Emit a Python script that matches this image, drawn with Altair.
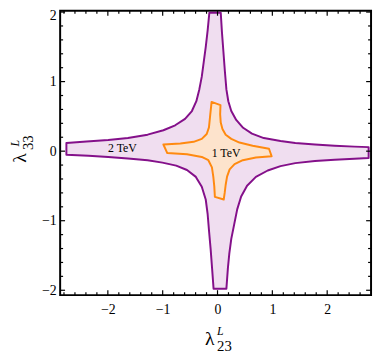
import altair as alt
import pandas as pd

# ---- data ----
purple_x = [-0.149, 0.059, 0.081, 0.108, 0.135, 0.162, 0.197, 0.251, 0.341, 0.467,
            0.628, 0.844, 1.149, 1.418, 1.777, 2.136, 2.495, 2.756,
            2.756, 2.495, 2.136, 1.777, 1.418, 1.149, 0.916, 0.700, 0.539, 0.431,
            0.359, 0.305, 0.251, 0.215, 0.189, 0.162,
            -0.072, -0.099, -0.126, -0.153, -0.180, -0.215, -0.287, -0.395, -0.557, -0.754,
            -1.005, -1.275, -1.634, -1.993, -2.352, -2.756,
            -2.756, -2.388, -1.993, -1.634, -1.275, -0.987, -0.772, -0.592, -0.467, -0.386,
            -0.332, -0.287, -0.251, -0.215, -0.180]
purple_y = [1.990, 1.990, 1.707, 1.425, 1.142, 0.888, 0.718, 0.577, 0.449, 0.336,
            0.252, 0.188, 0.146, 0.117, 0.096, 0.078, 0.065, 0.058,
            -0.099, -0.109, -0.123, -0.141, -0.172, -0.215, -0.278, -0.370, -0.498, -0.653,
            -0.837, -1.049, -1.261, -1.473, -1.685, -1.977,
            -1.977, -1.685, -1.402, -1.162, -0.907, -0.695, -0.512, -0.370, -0.271, -0.208,
            -0.165, -0.130, -0.105, -0.085, -0.066, -0.052,
            0.117, 0.139, 0.160, 0.188, 0.237, 0.301, 0.372, 0.464, 0.577, 0.718,
            0.888, 1.071, 1.283, 1.495, 1.736]

orange_x = [-0.108, 0.054, 0.048, 0.059, 0.090, 0.149, 0.251, 0.400, 0.641, 0.939,
            0.987, 0.700, 0.461, 0.311, 0.221, 0.174, 0.149, 0.131, 0.113,
            -0.048, -0.059, -0.077, -0.102, -0.167, -0.287, -0.557, -0.916,
            -0.987, -0.677, -0.436, -0.287, -0.197, -0.156, -0.138]
orange_y = [0.708, 0.661, 0.530, 0.411, 0.318, 0.237, 0.177, 0.124, 0.078, 0.035,
            -0.073, -0.092, -0.130, -0.187, -0.261, -0.366, -0.483, -0.601, -0.695,
            -0.657, -0.507, -0.366, -0.233, -0.130, -0.083, -0.045, -0.027,
            0.096, 0.110, 0.134, 0.177, 0.247, 0.341, 0.482]

region_labels = ["2 TeV", "1 TeV"]
region_label_x = [-1.733, 0.156]
region_label_y = [0.047, -0.028]

x_major = [-2, -1, 0, 1, 2]
x_minor = [-2.8, -2.6, -2.4, -2.2, -1.8, -1.6, -1.4, -1.2, -0.8, -0.6, -0.4, -0.2,
           0.2, 0.4, 0.6, 0.8, 1.2, 1.4, 1.6, 1.8, 2.2, 2.4, 2.6]
y_major = [-2, -1, 0, 1, 2]
y_minor = [-1.8, -1.6, -1.4, -1.2, -0.8, -0.6, -0.4, -0.2,
           0.2, 0.4, 0.6, 0.8, 1.2, 1.4, 1.6, 1.8]

x_domain = [-2.87, 2.80]
y_domain = [-2.07, 2.018]

W, H = 316, 289
FONT = "Liberation Serif"

# ---- tables ----
purple = pd.DataFrame({"x": purple_x, "y": purple_y, "i": range(len(purple_x))})
orange = pd.DataFrame({"x": orange_x, "y": orange_y, "i": range(len(orange_x))})
labels = pd.DataFrame({"x": region_label_x, "y": region_label_y, "t": region_labels})
xmaj = pd.DataFrame({"x": x_major})
xmin = pd.DataFrame({"x": x_minor})
ymaj = pd.DataFrame({"y": y_major})
ymin = pd.DataFrame({"y": y_minor})

xs = alt.Scale(domain=x_domain, nice=False, zero=False)
ys = alt.Scale(domain=y_domain, nice=False, zero=False)

x_axis = alt.Axis(values=x_major, title=None, labelPadding=8, ticks=False,
                  domain=False, grid=False)
y_axis = alt.Axis(values=y_major, title=None, labelPadding=4, ticks=False,
                  domain=False, grid=False,
                  labelOffset={"condition": {"test": "datum.value == 2", "value": 4},
                               "value": 0})

X = alt.X("x:Q", scale=xs, axis=x_axis)
Y = alt.Y("y:Q", scale=ys, axis=y_axis)


def polygon(df, fill, stroke):
    return alt.Chart(df).mark_line(
        fill=fill, stroke=stroke, strokeWidth=2, interpolate="linear-closed",
        strokeJoin="round", clip=True
    ).encode(x=X, y=Y, order=alt.Order("i:Q"))


p_purple = polygon(purple, "#F0DEF0", "#84108A")
p_orange = polygon(orange, "#FDE3CC", "#FF8A10")

txt = alt.Chart(labels).mark_text(font=FONT, fontSize=12, color="black",
                                  align="center", baseline="middle").encode(
    x=X, y=Y, text="t:N")


def xticks(df, length):
    bottom = alt.Chart(df).mark_rule(color="black", strokeWidth=1.2).encode(
        x=X, y=alt.value(H), y2=alt.value(H - length))
    top = alt.Chart(df).mark_rule(color="black", strokeWidth=1.2).encode(
        x=X, y=alt.value(0), y2=alt.value(length))
    return bottom + top


def yticks(df, length):
    left = alt.Chart(df).mark_rule(color="black", strokeWidth=1.2).encode(
        y=Y, x=alt.value(0), x2=alt.value(length))
    right = alt.Chart(df).mark_rule(color="black", strokeWidth=1.2).encode(
        y=Y, x=alt.value(W), x2=alt.value(W - length))
    return left + right


one = pd.DataFrame({"a": [0]})


def title_text(s, x, y, size, angle=0, align="left", italic=False):
    return alt.Chart(one).mark_text(
        text=s, font=FONT, fontSize=size, color="black", align=align,
        baseline="alphabetic", angle=angle, fontStyle="italic" if italic else "normal"
    ).encode(x=alt.value(x), y=alt.value(y))


# x title  λ^L_23
xt = (title_text("λ", 152, 340, 20, align="center")
      + title_text("L", 159.5, 329.5, 12, italic=True)
      + title_text("23", 159.5, 345.5, 15))
# y title  λ^L_33 (rotated)
yt = (title_text("λ", -34.5, 149.5, 20, angle=270, align="center")
      + title_text("L", -42, 138, 12, angle=270, italic=True)
      + title_text("33", -27.7, 141.5, 15, angle=270))

chart = alt.layer(
    p_purple, p_orange, txt,
    xticks(xmaj, 5), xticks(xmin, 3), yticks(ymaj, 5), yticks(ymin, 3),
    xt, yt,
).properties(
    width=W, height=H,
    padding={"left": 53, "top": 0, "right": 3, "bottom": 58},
    autosize=alt.AutoSizeParams(type="none"),
).configure_view(
    stroke="black", strokeWidth=2
).configure_axis(
    grid=False, ticks=False, domain=False,
    labelFont=FONT, labelFontSize=14, labelColor="black",
)

chart.save("out.html", embed_options={"renderer": "svg", "actions": False})
